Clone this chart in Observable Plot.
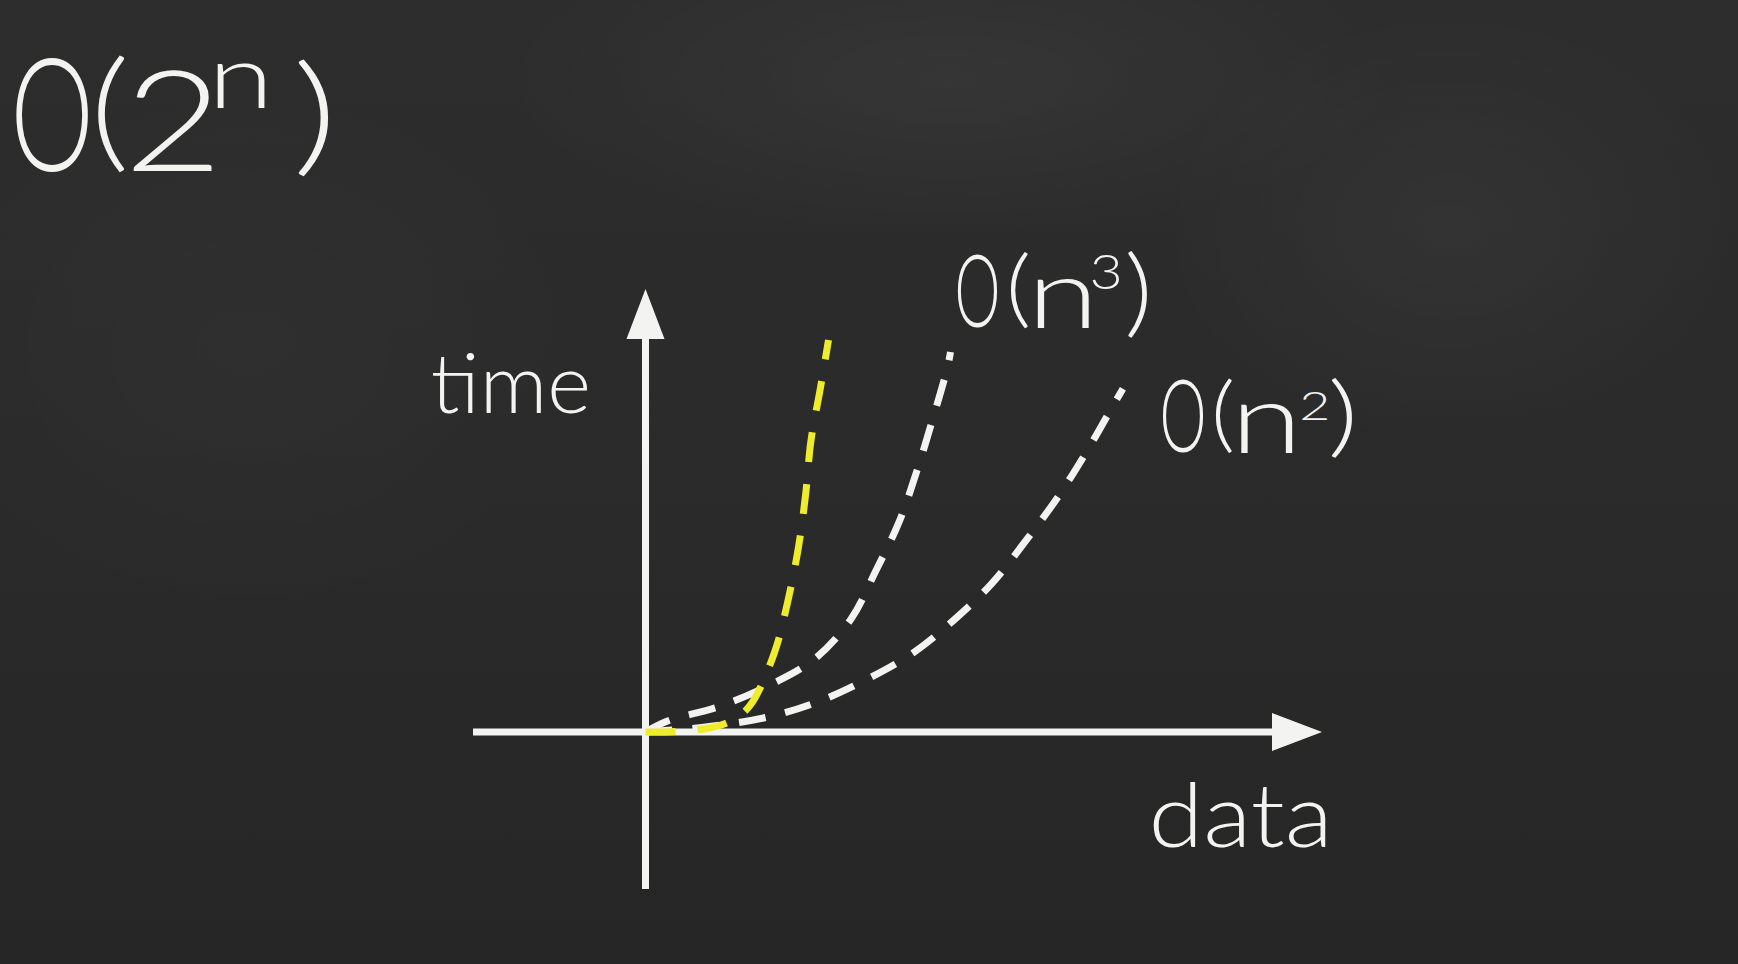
<!DOCTYPE html>
<html>
<head>
<meta charset="utf-8">
<script src="https://cdn.jsdelivr.net/npm/d3@7"></script>
<script src="https://cdn.jsdelivr.net/npm/@observablehq/plot@0.6"></script>
<style>
  html, body { margin: 0; padding: 0; width: 1738px; height: 964px; overflow: hidden; }
  body {
    background:
      radial-gradient(ellipse 650px 230px at 950px 80px, rgba(255,255,255,0.045), rgba(255,255,255,0) 70%),
      radial-gradient(ellipse 420px 320px at 1450px 230px, rgba(255,255,255,0.035), rgba(255,255,255,0) 70%),
      radial-gradient(ellipse 500px 400px at 250px 350px, rgba(255,255,255,0.02), rgba(255,255,255,0) 70%),
      linear-gradient(to bottom, #2d2d2d 0%, #2a2a2a 55%, #262626 100%);
  }
  #chart svg { display: block; }
</style>
</head>
<body>
<div id="chart"></div>
<script>
// ---- data (x = data, y = time, origin at the axes crossing) ----
const seriesNames = ["O(2ⁿ)", "O(n³)", "O(n²)"];

const expX = [0, 0.30, 0.64, 0.80, 0.95, 1.07, 1.29, 1.425, 1.53, 1.60, 1.655, 1.75, 1.83];
const expY = [0, 0.005, 0.04, 0.085, 0.17, 0.30, 0.795, 1.315, 1.85, 2.365, 2.915, 3.445, 3.92];

const cubeX = [0, 0.22, 0.736, 1.234, 1.693, 2.057, 2.305, 2.535, 2.715, 2.868, 3.02, 3.05];
const cubeY = [0, 0.11, 0.255, 0.465, 0.732, 1.132, 1.615, 2.098, 2.615, 3.115, 3.648, 3.80];

const sqX = [0, 0.60, 1.215, 1.712, 2.21, 2.677, 3.079, 3.46, 3.817, 4.123, 4.418, 4.686, 4.774];
const sqY = [0, 0.05, 0.148, 0.298, 0.525, 0.792, 1.115, 1.482, 1.932, 2.348, 2.815, 3.282, 3.432];

// axis extents (data units)
const axisX = [-1.72, 6.28];
const axisY = [-1.575, 3.95];
const arrowTips = { x: 6.515, y: 4.18 };

// label texts (split into base / raised parts)
const titleParts = ["O", "(", "2", "n", ")"];
const cubeParts = ["O", "(", "n", "3", ")"];
const sqParts = ["O", "(", "n", "2", ")"];
const yLabel = ["time"];
const xLabel = ["data"];

// ---- build tables ----
const toRows = (name, xs, ys) => xs.map((x, i) => ({series: name, x, y: ys[i]}));
const expRows = toRows(seriesNames[0], expX, expY);
const cubeRows = toRows(seriesNames[1], cubeX, cubeY);
const sqRows = toRows(seriesNames[2], sqX, sqY);

// ---- styles / layout ----
const CHALK = "#f3f3f1";
const YELLOW = "#eeec2c";
const FONT = "Lato, 'Open Sans', sans-serif";
const dash = "27,20";

// glyph ink boxes in page pixels: [left, right, top, bottom]
const titleLayout = [[15,88,55,172],[97,125,55,173],[132,212,68,170],[215,267,62,107],[293,333,58,177]];
const yLabelLayout = [[432,587,351,413]];
const cubeLayout = [[957,997,253,327],[1010,1028,250,328],[1033,1093,278,327],[1092,1119,254,289],[1127,1147,250,338]];
const sqLayout = [[1162,1203,377,452],[1215,1232,377,453],[1238,1295,403,452],[1300,1328,390,419],[1330,1353,377,458]];
const xLabelLayout = [[1153,1325,780,847]];

const labels = [
  [titleParts, titleLayout],
  [yLabel, yLabelLayout],
  [cubeParts, cubeLayout],
  [sqParts, sqLayout],
  [xLabel, xLabelLayout]
];

// custom elongated triangle symbol (points up)
const arrowSymbol = {
  draw(context, size) {
    const r = Math.sqrt(size / Math.PI);
    context.moveTo(0, -r);
    context.lineTo(0.76 * r, r);
    context.lineTo(-0.76 * r, r);
    context.closePath();
  }
};

const textMarks = labels.map(([parts]) => Plot.text([parts.join("")], {
  text: d => d,
  frameAnchor: "top-left",
  textAnchor: "start",
  lineAnchor: "bottom",
  fontSize: 100,
  fontFamily: FONT,
  fontWeight: 300,
  fill: CHALK
}));

const plot = Plot.plot({
  width: 1738,
  height: 964,
  margin: 0,
  style: { background: "transparent", overflow: "visible" },
  x: { domain: [-6.45, 10.93], axis: null },
  y: { domain: [-2.325, 7.315], axis: null },
  marks: [
    Plot.ruleY([0], { x1: axisX[0], x2: axisX[1], stroke: CHALK, strokeWidth: 7 }),
    Plot.ruleX([0], { y1: axisY[0], y2: axisY[1], stroke: CHALK, strokeWidth: 7 }),
    Plot.dot([arrowTips], { x: "x", y: () => 0, symbol: arrowSymbol, r: 25, rotate: 90, fill: CHALK, stroke: null }),
    Plot.dot([arrowTips], { x: () => 0, y: "y", symbol: arrowSymbol, r: 25, fill: CHALK, stroke: null }),
    Plot.line(sqRows, { x: "x", y: "y", curve: "catmull-rom", stroke: CHALK, strokeWidth: 7, strokeDasharray: dash, strokeLinecap: "butt" }),
    Plot.line(cubeRows, { x: "x", y: "y", curve: "catmull-rom", stroke: CHALK, strokeWidth: 7, strokeDasharray: dash, strokeLinecap: "butt" }),
    Plot.line(expRows, { x: "x", y: "y", curve: "catmull-rom", stroke: YELLOW, strokeWidth: 7, strokeDasharray: "30,22", strokeLinecap: "butt" }),
    ...textMarks
  ]
});

document.getElementById("chart").append(plot);

// fit each glyph group to its measured ink box (handwriting-like proportions)
const ctx = document.createElement("canvas").getContext("2d");
ctx.font = "300 100px Lato, 'Open Sans', sans-serif";
function fit(t, [x0, x1, y0, y1]) {
  const m = ctx.measureText(t);
  const asc = m.actualBoundingBoxAscent, desc = m.actualBoundingBoxDescent;
  const L = m.actualBoundingBoxLeft, R = m.actualBoundingBoxRight;
  const k = (y1 - y0) / (asc + desc);
  let sx = (x1 - x0) / ((L + R) * k);
  sx = Math.max(0.55, Math.min(1.35, sx));
  const inkW = (L + R) * k * sx;
  const left = (x0 + x1) / 2 - inkW / 2;
  return { x: left + L * k * sx, base: y0 + asc * k, size: 100 * k, len: m.width * k * sx };
}

const NS = "http://www.w3.org/2000/svg";
const texts = plot.querySelectorAll("text");
labels.forEach(([parts, layout], i) => {
  const el = texts[i];
  if (!el) return;
  el.textContent = "";
  el.removeAttribute("y");
  el.removeAttribute("dy");
  parts.forEach((t, j) => {
    const f = fit(t, layout[j]);
    const ts = document.createElementNS(NS, "tspan");
    ts.setAttribute("x", f.x.toFixed(1));
    ts.setAttribute("y", f.base.toFixed(1));
    ts.setAttribute("font-size", f.size.toFixed(1));
    ts.setAttribute("text-anchor", "start");
    ts.setAttribute("textLength", f.len.toFixed(1));
    ts.setAttribute("lengthAdjust", "spacingAndGlyphs");
    ts.textContent = t;
    el.append(ts);
  });
});
</script>
</body>
</html>
